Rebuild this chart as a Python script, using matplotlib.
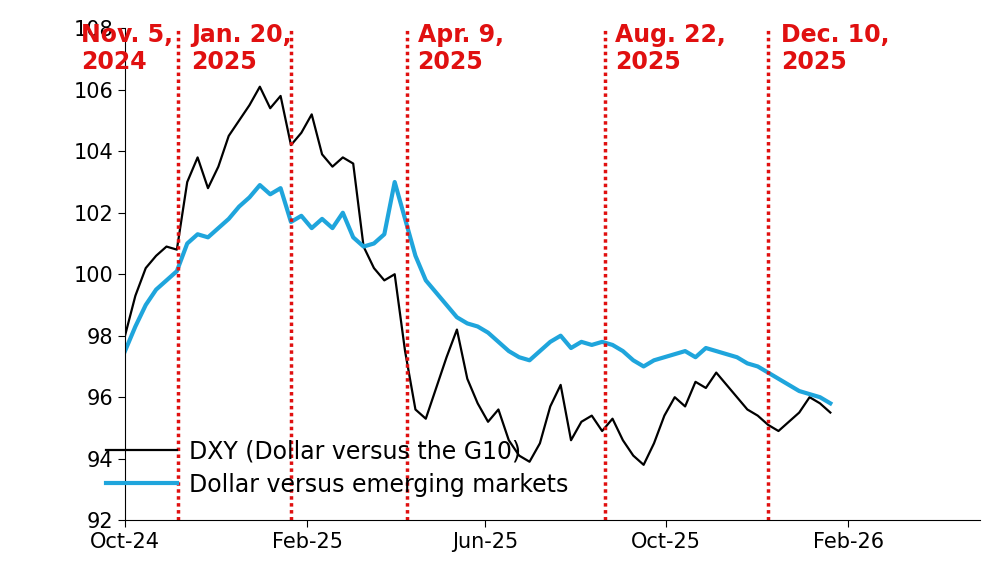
import matplotlib
matplotlib.use("Agg")
import matplotlib.pyplot as plt
import pandas as pd

plt.rcParams['font.family'] = ['DejaVu Sans']

dates = pd.date_range("2024-10-01", periods=69, freq="7D")
dxy = [98.0, 99.3, 100.2, 100.6, 100.9, 100.8, 103.0, 103.8, 102.8, 103.5,
       104.5, 105.0, 105.5, 106.1, 105.4, 105.8, 104.2, 104.6, 105.2, 103.9,
       103.5, 103.8, 103.6, 100.9, 100.2, 99.8, 100.0, 97.5, 95.6, 95.3,
       96.3, 97.3, 98.2, 96.6, 95.8, 95.2, 95.6, 94.6, 94.1, 93.9,
       94.5, 95.7, 96.4, 94.6, 95.2, 95.4, 94.9, 95.3, 94.6, 94.1,
       93.8, 94.5, 95.4, 96.0, 95.7, 96.5, 96.3, 96.8, 96.4, 96.0,
       95.6, 95.4, 95.1, 94.9, 95.2, 95.5, 96.0, 95.8, 95.5]
em = [97.5, 98.3, 99.0, 99.5, 99.8, 100.1, 101.0, 101.3, 101.2, 101.5,
      101.8, 102.2, 102.5, 102.9, 102.6, 102.8, 101.7, 101.9, 101.5, 101.8,
      101.5, 102.0, 101.2, 100.9, 101.0, 101.3, 103.0, 101.8, 100.6, 99.8,
      99.4, 99.0, 98.6, 98.4, 98.3, 98.1, 97.8, 97.5, 97.3, 97.2,
      97.5, 97.8, 98.0, 97.6, 97.8, 97.7, 97.8, 97.7, 97.5, 97.2,
      97.0, 97.2, 97.3, 97.4, 97.5, 97.3, 97.6, 97.5, 97.4, 97.3,
      97.1, 97.0, 96.8, 96.6, 96.4, 96.2, 96.1, 96.0, 95.8]
event_dates = ["2024-11-06", "2025-01-21", "2025-04-09", "2025-08-21", "2025-12-09"]
event_labels = ["Nov. 5,\n2024", "Jan. 20,\n2025", "Apr. 9,\n2025", "Aug. 22,\n2025", "Dec. 10,\n2025"]
label_offsets = [-97, -100, 11, 10, 13]
xtick_dates = ["2024-10-01", "2025-02-01", "2025-06-01", "2025-10-01", "2026-02-01"]
xtick_labels = ["Oct-24", "Feb-25", "Jun-25", "Oct-25", "Feb-26"]

fig = plt.figure(figsize=(10, 5.66), dpi=100)
ax = fig.add_axes([0.125, 0.081, 0.855, 0.869])
ax.plot(dates, dxy, color="black", lw=1.6, label="DXY (Dollar versus the G10)")
ax.plot(dates, em, color="#1fa5dc", lw=3, label="Dollar versus emerging markets")
for d, lab, off in zip(event_dates, event_labels, label_offsets):
    dt = pd.Timestamp(d)
    ax.axvline(dt, color="#e01010", ls=(0, (1, 1)), lw=2.5)
    ax.annotate(lab, xy=(dt, 1.0), xycoords=("data", "axes fraction"),
                xytext=(off * 0.72, 4), textcoords="offset points",
                ha="left", va="top", color="#e01010", fontsize=17,
                fontweight="bold", linespacing=1.15, annotation_clip=False)
ax.set_ylim(92, 108)
ax.set_yticks(range(92, 109, 2))
ax.set_xlim(pd.Timestamp("2024-10-01"), pd.Timestamp("2026-05-01"))
ax.set_xticks([pd.Timestamp(d) for d in xtick_dates])
ax.set_xticklabels(xtick_labels)
ax.tick_params(labelsize=15, length=5, color="black")
for s in ["top", "right"]:
    ax.spines[s].set_visible(False)
fig.legend(loc="lower left", bbox_to_anchor=(0.085, 0.085), frameon=False,
           fontsize=17, handlelength=3.0, handletextpad=0.5, labelspacing=0.4)
fig.savefig("out.png", dpi=100)
